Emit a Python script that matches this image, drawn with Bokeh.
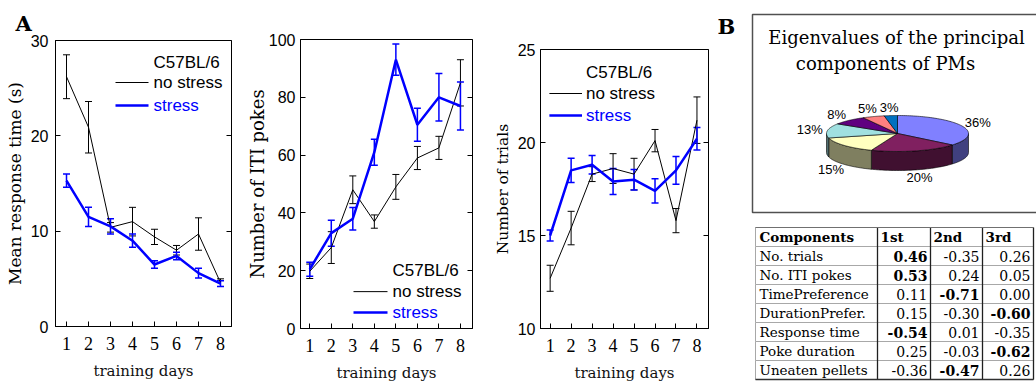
import numpy as np
from bokeh.plotting import figure
from bokeh.layouts import row, column
from bokeh.models import Range1d, FixedTicker, LinearAxis, Whisker, ColumnDataSource, TeeHead
from bokeh.core.properties import value
from bokeh.embed import file_html
from bokeh.resources import INLINE

# ---------------- data ----------------
days = [1, 2, 3, 4, 5, 6, 7, 8]
group_title = "C57BL/6"
label_nostress = "no stress"
label_stress = "stress"

resp_ns = [26.2, 20.9, 10.4, 11.0, 9.4, 8.0, 9.7, 4.6]
resp_ns_err = [2.3, 2.7, 0.5, 1.5, 0.8, 0.5, 1.7, 0.4]
resp_st = [15.3, 11.5, 10.5, 9.0, 6.5, 7.4, 5.6, 4.5]
resp_st_err = [0.7, 1.0, 0.8, 0.7, 0.4, 0.4, 0.5, 0.3]

iti_ns = [19.8, 28.0, 48.0, 37.0, 49.0, 59.0, 62.5, 85.0]
iti_ns_err = [2.5, 5.5, 4.8, 2.3, 4.3, 4.0, 4.0, 8.0]
iti_st = [20.5, 33.0, 38.0, 61.0, 93.0, 70.5, 80.0, 77.0]
iti_st_err = [2.4, 4.5, 3.9, 4.5, 5.4, 5.7, 8.2, 8.3]

trials_ns = [12.7, 15.4, 18.3, 18.6, 18.3, 20.1, 15.8, 21.2]
trials_ns_err = [0.7, 0.9, 0.4, 0.8, 0.85, 0.6, 0.65, 1.25]
trials_st = [15.0, 18.5, 18.8, 17.9, 18.0, 17.4, 18.5, 20.2]
trials_st_err = [0.3, 0.65, 0.5, 0.7, 0.55, 0.65, 0.75, 0.6]

pie_title = ["Eigenvalues of the principal", "components of PMs"]
pie_pcts = [36, 20, 15, 13, 8, 5, 3]
pie_colors = ["#8080ff", "#802060", "#ffffc0", "#a0e0e0", "#600080", "#ff8080", "#0070c0"]

table_header = ["Components", "1st", "2nd", "3rd"]
table_rows = ["No. trials", "No. ITI pokes", "TimePreference", "DurationPrefer.",
              "Response time", "Poke duration", "Uneaten pellets"]
load_1st = [0.46, 0.53, 0.11, 0.15, -0.54, 0.25, -0.36]
load_2nd = [-0.35, 0.24, -0.71, -0.30, 0.01, -0.03, -0.47]
load_3rd = [0.26, 0.05, 0.00, -0.60, -0.35, -0.62, 0.26]

# ---------------- style ----------------
SERIF = "DejaVu Serif"
TICKSERIF = "Liberation Serif"
SANS = "Liberation Sans"
BLUE = "#0000ff"
H = 384


def make_panel(width, bl, br, bt, bb, xr, yr, yticks, ylabel, ylabel_size,
               ns, ns_err, st, st_err, leg, ylab_standoff, ytick_standoff):
    p = figure(width=width, height=H, x_range=Range1d(*xr), y_range=Range1d(*yr),
               output_backend="svg", toolbar_location=None,
               min_border_left=bl, min_border_right=br, min_border_top=bt, min_border_bottom=bb)
    p.grid.visible = False
    p.outline_line_color = "black"
    p.outline_line_width = 1
    p.background_fill_color = "white"
    p.border_fill_color = "white"

    xa = p.xaxis[0]
    xa.ticker = FixedTicker(ticks=days)
    xa.major_tick_in = 5
    xa.major_tick_out = 0
    xa.minor_tick_line_color = None
    xa.major_tick_line_color = "black"
    xa.axis_line_color = "black"
    xa.major_label_text_font = TICKSERIF
    xa.major_label_text_font_size = "18px"
    xa.major_label_text_color = "black"
    xa.major_label_standoff = 10
    xa.axis_label = "training days"
    xa.axis_label_text_font = SERIF
    xa.axis_label_text_font_size = "15px"
    xa.axis_label_text_font_style = "normal"
    xa.axis_label_text_color = "#111111"
    xa.axis_label_standoff = 9

    ya = p.yaxis[0]
    ya.ticker = FixedTicker(ticks=yticks)
    ya.major_tick_in = 5
    ya.major_tick_out = 0
    ya.minor_tick_line_color = None
    ya.major_tick_line_color = "black"
    ya.axis_line_color = "black"
    ya.major_label_text_font = SANS
    ya.major_label_text_font_size = "16px"
    ya.major_label_text_color = "black"
    ya.major_label_standoff = ytick_standoff
    ya.axis_label = ylabel
    ya.axis_label_text_font = SERIF
    ya.axis_label_text_font_size = ylabel_size
    ya.axis_label_text_font_style = "normal"
    ya.axis_label_text_color = "black"
    ya.axis_label_standoff = ylab_standoff

    # mirrored inward ticks on the right edge, without labels
    ra = LinearAxis(ticker=FixedTicker(ticks=yticks),
                    major_label_overrides={t: "" for t in yticks},
                    major_tick_in=5, major_tick_out=0, minor_tick_line_color=None,
                    axis_line_color=None, major_label_standoff=0, major_tick_line_color="black")
    p.add_layout(ra, "right")

    # data lines + error bars
    for vals, errs, col, lw, ew in [(ns, ns_err, "black", 1, 1), (st, st_err, BLUE, 2.5, 1.5)]:
        src = ColumnDataSource(dict(x=days, y=vals,
                                    lo=[v - e for v, e in zip(vals, errs)],
                                    hi=[v + e for v, e in zip(vals, errs)]))
        w = Whisker(source=src, base="x", lower="lo", upper="hi", line_color=col, line_width=ew,
                    upper_head=TeeHead(size=7, line_color=col, line_width=ew),
                    lower_head=TeeHead(size=7, line_color=col, line_width=ew))
        p.add_layout(w)
        p.line("x", "y", source=src, line_color=col, line_width=lw)

    # legend (drawn manually, positioned in pixels within the frame)
    fw = width - bl - br
    fh = H - bt - bb
    fx = lambda px: xr[0] + px / fw * (xr[1] - xr[0])
    fy = lambda py: yr[1] - py / fh * (yr[1] - yr[0])
    lx0, lx1, tx, ty0, ty1, ty2 = leg
    p.line([fx(lx0), fx(lx1)], [fy(ty1)] * 2, line_color="black", line_width=1)
    p.line([fx(lx0), fx(lx1)], [fy(ty2)] * 2, line_color=BLUE, line_width=2.5)
    p.text(x=[fx(tx)] * 3, y=[fy(ty0), fy(ty1), fy(ty2)],
           text=[group_title, label_nostress, label_stress],
           text_color=["black", "black", BLUE], text_font=value(SANS),
           text_font_size="17px", text_baseline="middle", text_align="left")
    return p


# panel 1: frame x 55..231, y 40..326
p1 = make_panel(240, 55, 9, 40, H - 326, (0.5, 8.5), (0, 30), [0, 10, 20, 30],
                "Mean response time (s)", "17px", resp_ns, resp_ns_err, resp_st, resp_st_err,
                (60, 93, 98, 22, 42, 65), 3, 7)
p1.title.text = "A"
p1.title.align = "left"
p1.title.offset = -40
p1.title.standoff = 10
p1.title.text_font = SERIF
p1.title.text_font_size = "21px"
p1.title.text_font_style = "bold"
p1.title.text_color = "black"

# panel 2: frame x 300..472, y 39..329
p2 = make_panel(250, 60, 18, 39, H - 329, (0.57, 8.56), (0, 100), [0, 20, 40, 60, 80, 100],
                "Number of ITI pokes", "18px", iti_ns, iti_ns_err, iti_st, iti_st_err,
                (53, 87, 92, 232, 253, 274), -2, 5)

# panel 3: frame x 538..708, y 49..328
p3 = make_panel(226, 48, 8, 49, H - 328, (0.54, 8.55), (10, 25), [10, 15, 20, 25],
                "Number of trials", "15.5px", trials_ns, trials_ns_err, trials_st, trials_st_err,
                (9, 42, 46, 23, 44, 66), 3, 5)

# ---------------- pie panel ----------------
PX0, PX1, PY0, PY1 = 716, 1036, 0, 218
pf = figure(width=PX1 - PX0, height=PY1 - PY0, x_range=Range1d(PX0, PX1), y_range=Range1d(PY1, PY0),
            output_backend="svg", toolbar_location=None, min_border=0,
            x_axis_location=None, y_axis_location=None, outline_line_color=None)
pf.grid.visible = False

box_left, box_top, box_bottom = 752, 14, 212
pf.line([PX1 + 20, box_left, box_left, PX1 + 20], [box_top, box_top, box_bottom, box_bottom],
        line_color="#505050", line_width=1.5)
pf.text(x=[717], y=[26], text=["B"], text_font=value(SERIF), text_font_size="21px",
        text_font_style="bold", text_baseline="alphabetic", text_color="black")
pf.text(x=[896, 885], y=[37, 63], text=pie_title, text_font=value(SERIF), text_font_size="18px",
        text_align="center", text_baseline="alphabetic", text_color="black")

cx, cy, rx, ry, depth = 897, 133, 71, 18, 19
frac = np.array(pie_pcts, dtype=float) / sum(pie_pcts)
edges = 90 - 360 * np.concatenate([[0], np.cumsum(frac)])


def ell(t, dy=0.0):
    r = np.radians(t)
    return cx + rx * np.cos(r), cy - ry * np.sin(r) + dy


def darker(c, f=0.5):
    c = c.lstrip("#")
    return "#" + "".join("%02x" % int(int(c[i:i + 2], 16) * f) for i in (0, 2, 4))


side_xs, side_ys, side_cols = [], [], []
top_xs, top_ys = [], []
lab_x, lab_y, lab_t = [], [], []
for i in range(len(pie_pcts)):
    a0, a1 = edges[i], edges[i + 1]
    s, e = max(a1, -180), min(a0, 0)
    if e > s:
        t = np.linspace(e, s, 60)
        x, y = ell(t)
        side_xs.append(list(np.concatenate([x, x[::-1]])))
        side_ys.append(list(np.concatenate([y, (y + depth)[::-1]])))
        side_cols.append(darker(pie_colors[i]))
    t = np.linspace(a0, a1, 80)
    x, y = ell(t)
    top_xs.append([cx] + list(x))
    top_ys.append([cy] + list(y))
    m = np.radians((a0 + a1) / 2)
    c, sn = np.cos(m), np.sin(m)
    lab_x.append(cx + 1.25 * rx * c)
    lab_y.append(cy - 1.45 * ry * sn + (depth if sn < 0 else 0))
    lab_t.append("%d%%" % pie_pcts[i])

pf.patches(side_xs, side_ys, fill_color=side_cols, line_color="black", line_width=0.6)
pf.patches(top_xs, top_ys, fill_color=pie_colors, line_color="black", line_width=0.6)
pf.text(x=lab_x, y=lab_y, text=lab_t, text_align="center", text_baseline="middle",
        text_font=value(SANS), text_font_size="13px", text_color="black")

# ---------------- table panel ----------------
TY0, TY1 = PY1, H
tf = figure(width=PX1 - PX0, height=TY1 - TY0, x_range=Range1d(PX0, PX1), y_range=Range1d(TY1, TY0),
            output_backend="svg", toolbar_location=None, min_border=0,
            x_axis_location=None, y_axis_location=None, outline_line_color=None)
tf.grid.visible = False

col_w = [122, 53, 52, 51]
tbl_left, tbl_top, row_h = 755, 227, 19.0
col_edges = tbl_left + np.concatenate([[0], np.cumsum(col_w)])
nrows = 1 + len(table_rows)
row_edges = tbl_top + row_h * np.arange(nrows + 1)

ql, qr, qt, qb = [], [], [], []
for r in range(nrows):
    for cidx in range(len(col_w)):
        ql.append(col_edges[cidx]); qr.append(col_edges[cidx + 1])
        qt.append(row_edges[r]); qb.append(row_edges[r + 1])
tf.quad(left=ql, right=qr, top=qt, bottom=qb, fill_color="white", line_color="#a8a8a8", line_width=1)
tf.segment(x0=list(col_edges[1:]), y0=[row_edges[0]] * len(col_w), x1=list(col_edges[1:]),
           y1=[row_edges[-1]] * len(col_w), line_color="#202020", line_width=1.3)
tf.segment(x0=[col_edges[0]], y0=[row_edges[-1]], x1=[col_edges[-1]], y1=[row_edges[-1]],
           line_color="#303030", line_width=1.3)
tf.segment(x0=[col_edges[0]], y0=[row_edges[0]], x1=[col_edges[-1]], y1=[row_edges[0]],
           line_color="#707070", line_width=1)

mid = (row_edges[:-1] + row_edges[1:]) / 2
tf.text(x=[col_edges[0] + 4] + [col_edges[j] + 3 for j in (1, 2, 3)], y=[mid[0]] * 4, text=table_header,
        text_font=value(SERIF), text_font_size="13.5px", text_font_style="bold",
        text_baseline="middle", text_align="left", text_color="black")
tf.text(x=[col_edges[0] + 4] * len(table_rows), y=list(mid[1:]), text=table_rows,
        text_font=value(SERIF), text_font_size="13.5px", text_baseline="middle",
        text_align="left", text_color="black")
nx, ny, nt, nst = [], [], [], []
for j, col in enumerate([load_1st, load_2nd, load_3rd]):
    for r, v in enumerate(col):
        nx.append(col_edges[j + 2] - 3)
        ny.append(mid[r + 1])
        nt.append("%.2f" % v)
        nst.append("bold" if abs(v) >= 0.45 else "normal")
tf.text(x=nx, y=ny, text=nt, text_font_style=nst, text_font=value(SERIF), text_font_size="14px",
        text_baseline="middle", text_align="right", text_color="black")

# each chart is wrapped in its own column so that the row does not align their frames
layout = row(column(p1), column(p2), column(p3), column(pf, tf))
open("out.html", "w").write(file_html(layout, INLINE))
